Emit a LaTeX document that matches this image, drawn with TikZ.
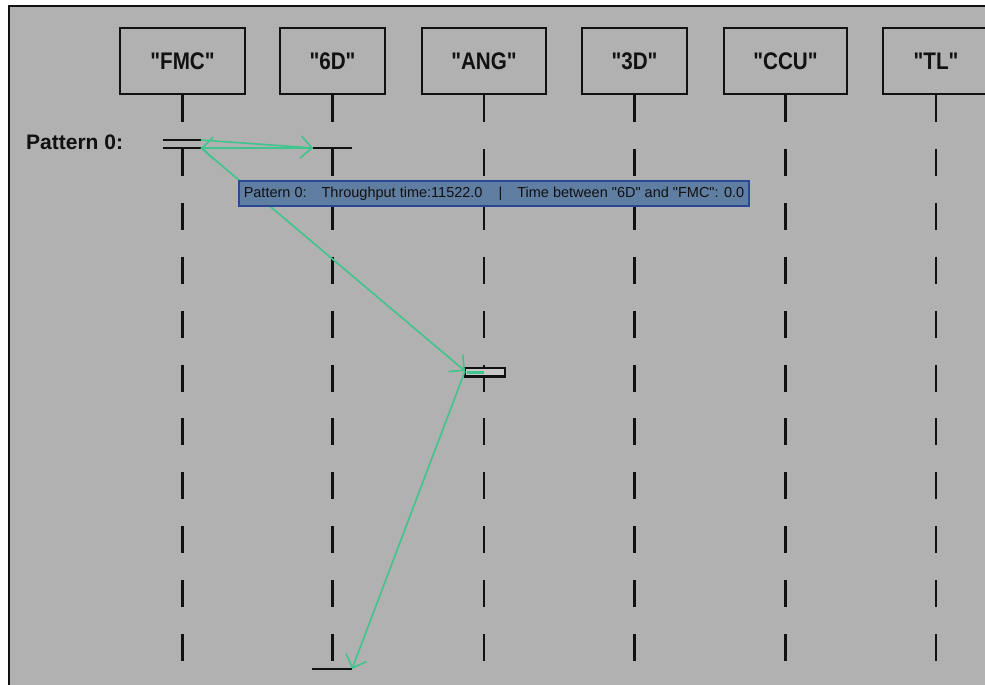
\documentclass[tikz,border=0pt]{standalone}
\usepackage{fontspec}
\setmainfont{Liberation Sans}[Ligatures=TeXOff]
\usetikzlibrary{arrows.meta}

\definecolor{canvas}{RGB}{177,177,177}
\definecolor{msg}{RGB}{62,196,140}
\definecolor{tipfill}{RGB}{96,126,162}
\definecolor{tipline}{RGB}{40,72,150}
\definecolor{ink}{RGB}{17,17,17}
\definecolor{activefill}{RGB}{200,200,200}

\tikzset{
  head/.style={draw=ink, line width=2pt, minimum height=66pt, inner sep=0pt,
    font=\bfseries\fontsize{24}{28}\selectfont, text=ink},
  lifeline/.style={draw=ink, line width=2.6pt, dash pattern=on 27pt off 26.9pt},
  bar/.style={draw=ink, line width=2.6pt},
  activation/.style={draw=ink, line width=2.5pt, fill=activefill},
  message/.style={draw=msg, line width=1.6pt,
    -{Straight Barb[length=11pt,width=22pt,line width=1.6pt]}},
  tooltip/.style={draw=tipline, line width=1.5pt, fill=tipfill, text=ink,
    font=\fontsize{14.5}{16}\selectfont, inner xsep=5pt, inner ysep=0pt,
    minimum height=25pt},
}

\begin{document}
\begin{tikzpicture}[x=1pt,y=-1pt]
  \useasboundingbox (0,0) rectangle (985,685);
  \clip (0,0) rectangle (985,685);
  \fill[white] (0,0) rectangle (985,685);
  \fill[canvas] (8,6) rectangle (985,685);
  \draw[ink, line width=2pt] (8.5,685) -- (8.5,6.5) -- (985,6.5);

  % lifeline heads
  \node[head, minimum width=125pt] (fmc)    at (182.5,61) {\scalebox{0.86}[1]{"FMC"}};
  \node[head, minimum width=105pt] (sixd)   at (332.5,61) {\scalebox{0.86}[1]{"6D"}};
  \node[head, minimum width=124pt] (ang)    at (484,61)   {\scalebox{0.86}[1]{"ANG"}};
  \node[head, minimum width=105pt] (threed) at (634.5,61) {\scalebox{0.86}[1]{"3D"}};
  \node[head, minimum width=123pt] (ccu)    at (785.5,61) {\scalebox{0.86}[1]{"CCU"}};
  \node[head, minimum width=106pt] (tl)     at (936,61)   {\scalebox{0.86}[1]{"TL"}};

  % dashed lifelines
  \coordinate (bottom) at (0,700);
  \foreach \h in {fmc,sixd,ang,threed,ccu,tl}
    \draw[lifeline] (\h.south) -- (\h.south |- bottom);

  % pattern label
  \node[font=\bfseries\fontsize{21}{25}\selectfont, text=ink, anchor=west, inner sep=0pt]
    (plabel) at (26,142.5) {Pattern 0:};

  % activation marks
  \coordinate (fmcOut)  at (201,140);
  \coordinate (fmcIn)   at (201,148);
  \coordinate (sixdIn)  at (313,148);
  \coordinate (angIn)   at (465,371);
  \coordinate (sixdEnd) at (352,669);

  \draw[bar] (163,140) -- (fmcOut);
  \draw[bar] (163,148) -- (fmcIn);
  \draw[bar] (sixdIn) -- (352,148);
  \draw[bar] (312,669) -- (sixdEnd);
  \draw[activation] (angIn |- 0,368) rectangle (505,376.5);
  \draw[msg, line width=3pt] (467,372.2) -- (484,372.2);

  % messages
  \draw[message] (fmcOut) -- (sixdIn);
  \draw[message] (sixdIn) -- (fmcIn);
  \draw[message] (fmcIn) -- (angIn);
  \draw[message] (angIn) -- (sixdEnd);

  % hover summary
  \node[tooltip, anchor=west] (summary) at (238,193.5)
    {\makebox[500pt][l]{Pattern 0:\hspace{15pt}Throughput time:11522.0\hspace{16pt}|\hspace{15pt}Time between "6D" and "FMC": 0.0}};
\end{tikzpicture}
\end{document}
